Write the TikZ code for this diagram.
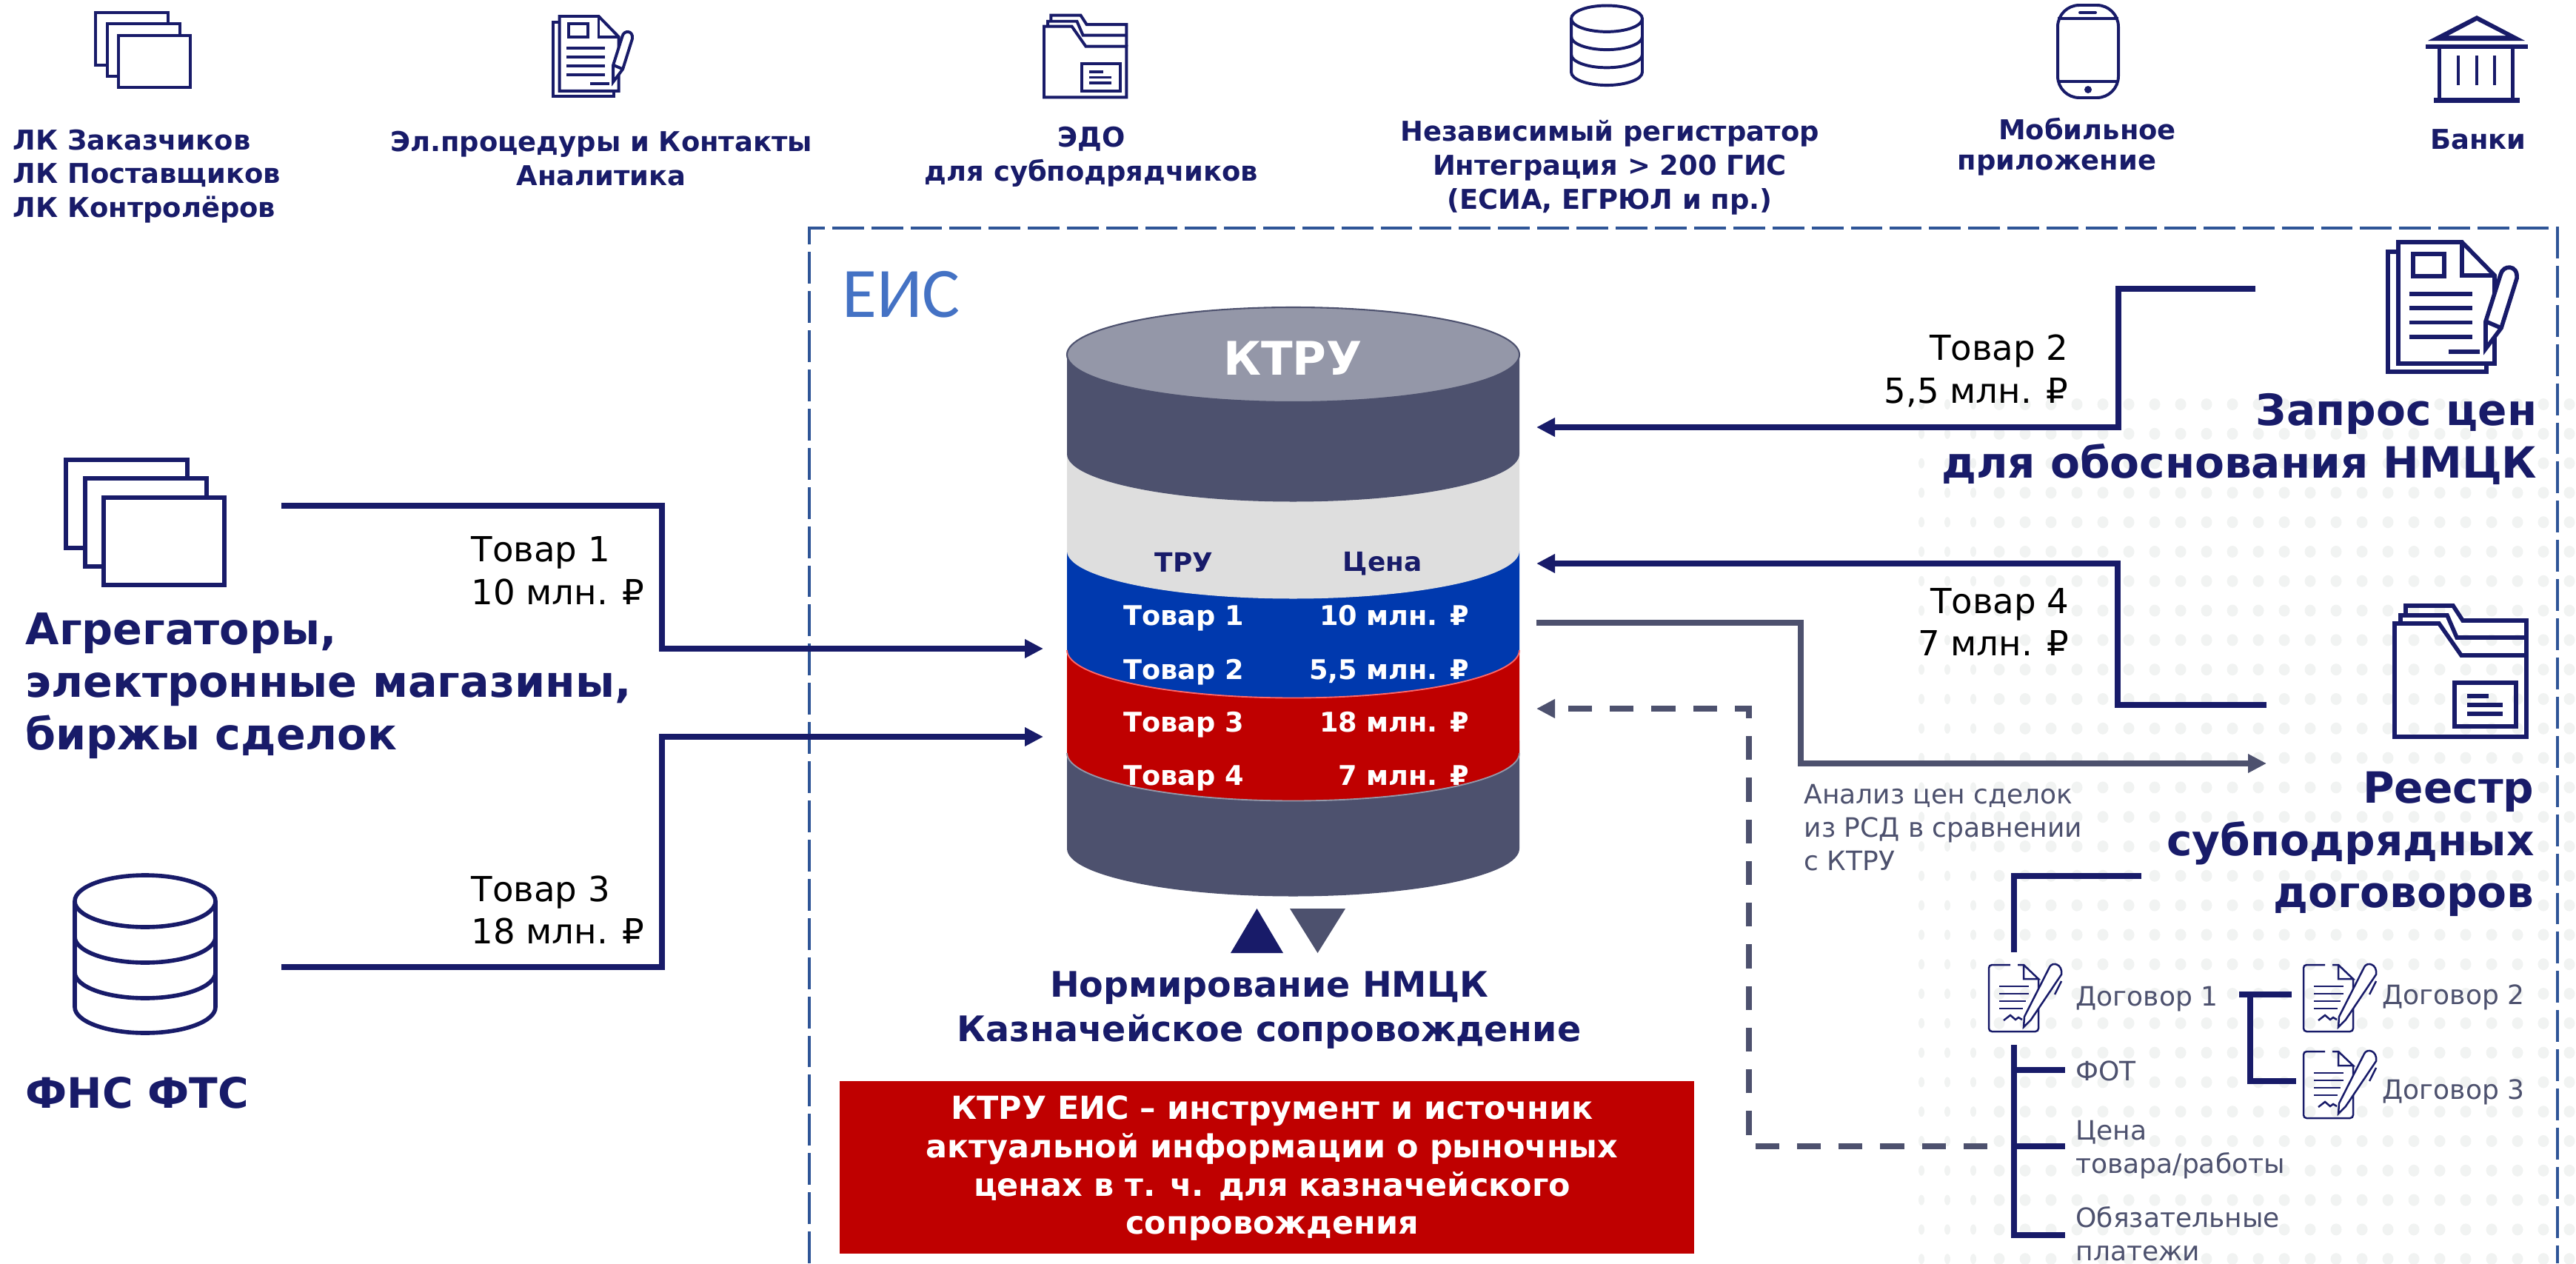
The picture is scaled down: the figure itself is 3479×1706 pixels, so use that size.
\documentclass[tikz,border=0pt]{standalone}
\usepackage{fontspec}
\setmainfont{DejaVu Sans}
\newfontfamily\eisfont{Carlito}
\usetikzlibrary{arrows.meta}

\definecolor{navy}{RGB}{24,27,105}
\definecolor{slate}{RGB}{77,81,110}
\definecolor{mist}{RGB}{148,151,168}
\definecolor{framecol}{RGB}{47,85,151}
\definecolor{eiscol}{RGB}{68,114,196}
\definecolor{bandgrey}{RGB}{222,222,222}
\definecolor{bandblue}{RGB}{0,57,174}
\definecolor{bandred}{RGB}{191,0,0}
\definecolor{dotcol}{RGB}{241,243,242}

\tikzset{
  every picture/.style={line width=0.75pt},
  navyline/.style={draw=navy,line width=1.75pt},
  slateline/.style={draw=slate,line width=1.85pt},
  tiparrow/.style={-{Triangle[length=6pt,width=5.8pt]}},
  iconbig/.style={transform shape,color=navy,line width=1.35pt},
  iconsmall/.style={transform shape,color=navy,line width=0.95pt},
  headtext/.style={inner sep=0pt,text=navy,font=\fontsize{8.85}{11}\selectfont\bfseries},
  bigtext/.style={inner sep=0pt,text=navy,font=\fontsize{13.95}{17}\selectfont\bfseries},
  goodtext/.style={inner sep=0pt,text=black,font=\fontsize{11.2}{13.9}\selectfont},
  rowtext/.style={inner sep=0pt,text=white,font=\fontsize{8.8}{10}\selectfont\bfseries},
  smalltext/.style={inner sep=0pt,text=slate,font=\fontsize{8.65}{10.8}\selectfont},
  pics/sheaf/.style={code={
    \draw[fill=white] (0,0) rectangle (164,119);
    \draw[fill=white] (26,25) rectangle (190,144);
    \draw[fill=white] (51,51) rectangle (214,169);
  }},
  pics/paper/.style={code={
    \draw (14,13) -- (0,13) -- (0,175) -- (133,175) -- (133,164);
    \draw (100,0) -- (14,0) -- (14,164) -- (144,164) -- (144,45) -- cycle;
    \draw (100,0) -- (100,45) -- (144,45);
    \draw (34,16) rectangle (76,46);
    \foreach \ly in {70,89,108.5,128} \draw (28.5,\ly) -- (113.5,\ly);
    \draw (82,148) -- (124,148);
    \draw[fill=white] (152,44) .. controls (155,30) and (176,30) .. (174,49) -- (153,116) -- (132,144) -- (132,107) -- cycle;
    \draw (132,107) -- (153,116);
  }},
  pics/folder/.style={code={
    \draw (15,14) -- (15,1) -- (79,1) -- (92,21) -- (178,21) -- (178,68);
    \draw (8,25) -- (8,14) -- (71,14) -- (84,44) -- (178,44);
    \draw (0,25) -- (60,25) -- (90,68) -- (178,68) -- (178,178) -- (0,178) -- cycle;
    \draw (81,105) rectangle (164,164);
    \draw (98,123) -- (127,123);
    \draw (98,135) -- (146,135);
    \draw (98,147) -- (146,147);
  }},
  pics/dbstack/.style={code={
    \draw (99,38) ellipse [x radius=95,y radius=35];
    \draw (4,38) -- (4,181) arc [start angle=180,end angle=0,x radius=95,y radius=35] -- (194,38);
    \draw (4,86) arc [start angle=180,end angle=0,x radius=95,y radius=35];
    \draw (4,134) arc [start angle=180,end angle=0,x radius=95,y radius=35];
  }},
  pics/contract/.style={code={
    \draw[rounded corners=1] (29,1) -- (0,1) -- (0,91) -- (67,91) -- (67,20);
    \draw (39,1) -- (47,1) -- (67,20) -- (47,20) -- (47,1);
    \draw (14,30) -- (54,30);
    \draw (14,40) -- (54,40);
    \draw (14,50) -- (50,50);
    \draw (14,60) -- (46,60);
    \draw (20,76) -- (29,69) -- (36,75) -- (40,72) -- (45,75);
    \draw[fill=white] (82,4) .. controls (86,-4) and (100,0) .. (98,14) -- (57,75) -- (47,85) -- (48,71) -- cycle;
    \draw (98,23) -- (89,41);
  }},
}

\begin{document}
\begin{tikzpicture}[x=0.24pt,y=0.24pt,yscale=-1,xscale=1]
        \useasboundingbox (0,0) rectangle (3479,1706);

        %Shape: Dots
        \foreach \row in {0,...,29}
          \foreach \col in {3,...,25}
            \fill[dotcol] (2595+35*\col,546+39.8*\row) ellipse [x radius=7.5,y radius=8];
        \foreach \row in {0,...,29}
          \foreach \col in {0,1,2}
            \fill[dotcol] (2595+35*\col,546+39.8*\row) ellipse [x radius=4,y radius=7];

        %Shape: Frame
        \draw[framecol,line width=0.96pt,dash pattern={on 10.3pt off 2.4pt}] (1093,1706) -- (1093,308) -- (3454,308) -- (3454,1706);

        % Text Node
        \node[anchor=west,inner sep=0pt,text=eiscol,font=\eisfont\fontsize{23}{26}\selectfont] (eis) at (1136,398) {ЕИС};

        %Shape: Cylinder
        \foreach \ytop/\ybot/\bandcol in {1000/1146/slate,878/1017/bandred,744/878/bandblue,613/744/bandgrey,479/613/slate}{
          \fill[\bandcol] (1441,\ytop) -- (1441,\ybot) arc [start angle=180,end angle=0,x radius=305.5,y radius=64.5] -- (2052,\ytop) -- cycle;
        }
        \draw[red!60!white,line width=0.45pt] (1441,878) arc [start angle=180,end angle=0,x radius=305.5,y radius=64.5];
        \draw[mist,line width=0.45pt] (1441,1017) arc [start angle=180,end angle=0,x radius=305.5,y radius=64.5];
        \draw[slate,fill=mist,line width=0.5pt] (1746.5,479) ellipse [x radius=305.5,y radius=64];

        % Text Node
        \node[inner sep=0pt,text=white,font=\fontsize{15}{18}\selectfont\bfseries] (ktru) at (1746,484) {КТРУ};
        \node[inner sep=0pt,text=navy,font=\fontsize{8.6}{10}\selectfont\bfseries] (tru) at (1599,759) {ТРУ};
        \node[inner sep=0pt,text=navy,font=\fontsize{8.6}{10}\selectfont\bfseries] (price) at (1867,761) {Цена};
        \foreach \rowy/\rowgood/\rowprice in {831/1/10 млн. ₽,904/2/{5,5 млн. ₽},975/3/18 млн. ₽,1047/4/7 млн. ₽}{
          \node[rowtext,anchor=base west] (row\rowgood) at (1516,\rowy+13) {Товар \rowgood};
          \node[rowtext,anchor=base east] (cost\rowgood) at (1986,\rowy+13) {\rowprice};
        }

        %Shape: Triangles
        \fill[navy] (1662,1287) -- (1697.5,1227) -- (1733,1287) -- cycle;
        \fill[slate] (1742,1227) -- (1817,1227) -- (1779.5,1287) -- cycle;

        % Text Node
        \node[inner sep=0pt,text=navy,font=\fontsize{11.4}{14.4}\selectfont\bfseries,align=center] (norm) at (1714,1364) {Нормирование НМЦК\\Казначейское сопровождение};

        %Shape: Red box
        \fill[bandred] (1134,1460) rectangle (2288,1693);
        \node[inner sep=0pt,text=white,font=\fontsize{10.3}{12.4}\selectfont\bfseries,align=center] (redbox) at (1718,1578) {КТРУ ЕИС – инструмент и источник\\актуальной информации о рыночных\\ценах в т. ч. для казначейского\\сопровождения};

        %Shape: Top icons
        \pic[iconsmall,scale=0.6] at (129,17) {sheaf};
        \pic[iconsmall,scale=0.615] at (747,22) {paper};
        \pic[iconsmall,scale=0.626] at (1410,20) {folder};
        \pic[iconsmall,scale=0.505] at (2120,6) {dbstack};
        %Shape: Phone
        \draw[iconsmall,rounded corners=7] (2779,7) rectangle (2861,132);
        \draw[iconsmall] (2779,25) -- (2861,25);
        \draw[iconsmall] (2779,110) -- (2861,110);
        \draw[iconsmall,line cap=round] (2809,17) -- (2830,17);
        \fill[navy] (2820,121) circle (5);
        %Shape: Bank
        \fill[navy] (3345,21) -- (3410,55) -- (3279,55) -- cycle;
        \fill[white] (3345,28) -- (3384,48) -- (3307,48) -- cycle;
        \fill[navy] (3276,60) rectangle (3414,66);
        \draw[navy,line width=1.2pt] (3294,66) -- (3294,132);
        \draw[navy,line width=1.2pt] (3393,66) -- (3393,132);
        \fill[navy] (3287,132) rectangle (3403,139);
        \foreach \colx in {3320,3345,3369}
          \draw[navy,line width=1.1pt] (\colx,75) -- (\colx,115);

        % Text Node
        \node[headtext,anchor=west,align=left] (cabinets) at (16,238) {ЛК Заказчиков\\ЛК Поставщиков\\ЛК Контролёров};
        \node[headtext,align=center] (procs) at (812,214) {Эл.процедуры и Контакты\\Аналитика};
        \node[headtext,align=center] (edo) at (1474,212) {ЭДО\\для субподрядчиков};
        \node[headtext,align=center] (registrar) at (2174,226) {Независимый регистратор\\Интеграция > 200 ГИС\\(ЕСИА, ЕГРЮЛ и пр.)};
        \node[headtext] (mobile) at (2819,174) {Мобильное};
        \node[headtext] (mobileapp) at (2778,223) {приложение};
        \node[headtext] (banks) at (3347,188) {Банки};

        %Shape: Left source
        \pic[iconbig] at (89,621) {sheaf};
        \pic[iconbig] at (97,1179) {dbstack};

        % Text Node
        \node[bigtext,font=\fontsize{14.1}{17}\selectfont\bfseries,anchor=west,align=left] (aggr) at (33,926) {Агрегаторы,\\электронные магазины,\\биржы сделок};
        \node[bigtext,font=\fontsize{13.6}{17}\selectfont\bfseries,anchor=west] (fns) at (33,1476) {ФНС ФТС};
        \node[goodtext,anchor=west,align=left] (good1) at (635,771) {Товар 1\\10 млн. ₽};
        \node[goodtext,anchor=west,align=left] (good3) at (635,1229) {Товар 3\\18 млн. ₽};
        \node[goodtext,anchor=east,align=right] (good2) at (2795,501) {Товар 2\\5,5 млн. ₽};
        \node[goodtext,anchor=east,align=right] (good4) at (2796,840) {Товар 4\\7 млн. ₽};

        %Shape: Right icons
        \pic[iconbig] at (3225,327) {paper};
        \pic[iconbig] at (3234,817) {folder};

        % Text Node
        \node[bigtext,anchor=east,align=right] (query) at (3428,593) {Запрос цен\\для обоснования НМЦК};
        \node[bigtext,anchor=east,align=right] (registry) at (3424,1140) {Реестр\\субподрядных\\договоров};
        \node[smalltext,anchor=west,align=left] (analysis) at (2435,1118) {Анализ цен сделок\\из РСД в сравнении\\с КТРУ};

        % Connector ends
        \coordinate (aggout) at (380,683);
        \coordinate (aggbend) at (894,780);
        \coordinate (ktruA) at (1409,876);
        \coordinate (fnsout) at (380,1306);
        \coordinate (fnsbend) at (894,1150);
        \coordinate (ktruB) at (1409,995);
        \coordinate (queryout) at (3046,390);
        \coordinate (querybend) at (2861,480);
        \coordinate (ktruC) at (2075,577);
        \coordinate (regout) at (3061,952);
        \coordinate (regbend) at (2860,850);
        \coordinate (ktruD) at (2075,761);
        \coordinate (ktruE) at (2075,841);
        \coordinate (slatebend) at (2432,930);
        \coordinate (regin) at (3061,1031);
        \coordinate (priceout) at (2684,1548);
        \coordinate (dashbend) at (2362,1250);
        \coordinate (ktruF) at (2075,957);

        \draw[navyline,tiparrow] (aggout) -| (aggbend) |- (ktruA);
        \draw[navyline,tiparrow] (fnsout) -| (fnsbend) |- (ktruB);
        \draw[navyline,tiparrow] (queryout) -| (querybend) |- (ktruC);
        \draw[navyline,tiparrow] (regout) -| (regbend) |- (ktruD);
        \draw[slateline,tiparrow] (ktruE) -| (slatebend) |- (regin);
        \draw[slateline,tiparrow,dash pattern={on 7.7pt off 5.8pt}] (priceout) -| (dashbend) |- (ktruF);

        %Shape: Contract tree
        \coordinate (treetop) at (2892,1183);
        \coordinate (treeend) at (2720,1286);
        \draw[navyline] (treetop) -| (treeend);
        \coordinate (treestart) at (2720,1411);
        \coordinate (leafA) at (2789,1445);
        \coordinate (leafB) at (2789,1548);
        \coordinate (leafC) at (2789,1668);
        \draw[navyline] (treestart) |- (leafC);
        \draw[navyline] (treestart |- leafA) -- (leafA);
        \draw[navyline] (treestart |- leafB) -- (leafB);
        \coordinate (subroot) at (3024,1343);
        \coordinate (subA) at (3095,1343);
        \coordinate (subB) at (3101,1460);
        \draw[navyline] (subroot) -- (subA);
        \draw[navyline] (3039,1343) |- (subB);
        \pic[transform shape,color=navy,line width=0.6pt] at (2686,1302) {contract};
        \pic[transform shape,color=navy,line width=0.6pt] at (3111,1302) {contract};
        \pic[transform shape,color=navy,line width=0.6pt] at (3111,1419) {contract};

        % Text Node
        \node[smalltext,anchor=west] (deal1) at (2802,1349) {Договор 1};
        \node[smalltext,anchor=west] (deal2) at (3216,1347) {Договор 2};
        \node[smalltext,anchor=west] (deal3) at (3216,1475) {Договор 3};
        \node[smalltext,anchor=west] (fot) at (2802,1446) {ФОТ};
        \node[smalltext,anchor=west,align=left] (goodprice) at (2802,1553) {Цена\\товара/работы};
        \node[smalltext,anchor=west,align=left] (duties) at (2802,1666) {Обязательные\\платежи};

    \end{tikzpicture}
\end{document}
